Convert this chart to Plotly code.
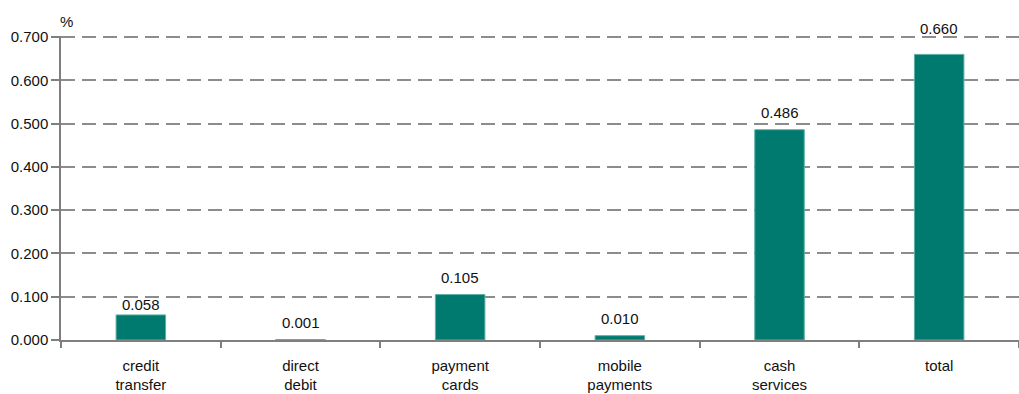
import plotly.graph_objects as go

categories = ["credit<br>transfer", "direct<br>debit", "payment<br>cards",
              "mobile<br>payments", "cash<br>services", "total"]
values = [0.058, 0.001, 0.105, 0.010, 0.486, 0.660]
labels = ["0.058", "0.001", "0.105", "0.010", "0.486", "0.660"]
label_shift = [10, 17, 17, 17, 17, 26]

y_ticks = [0.0, 0.1, 0.2, 0.3, 0.4, 0.5, 0.6, 0.7]
y_ticktext = [f"{v:.3f}" for v in y_ticks]

FONT = "Liberation Sans, Arial, sans-serif"
BAR = "#007A6E"
AXIS = "#7f7f7f"

fig = go.Figure()
fig.add_trace(go.Bar(
    x=categories, y=values,
    marker=dict(color=BAR, line=dict(color="#5fb0a6", width=1)),
    width=0.31,
    hoverinfo="skip",
))

for cat, v, t, s in zip(categories, values, labels, label_shift):
    fig.add_annotation(x=cat, y=v, text=t, showarrow=False,
                       yanchor="middle", yshift=s,
                       font=dict(family=FONT, size=15, color="#111"))

fig.add_annotation(x=0, y=1, xref="paper", yref="paper", text="%",
                   showarrow=False, xanchor="left", yanchor="bottom",
                   xshift=-3, yshift=4,
                   font=dict(family=FONT, size=15, color="#111"))

fig.update_layout(
    width=1019, height=394,
    margin=dict(l=61, r=0, t=36, b=54),
    paper_bgcolor="white", plot_bgcolor="white",
    showlegend=False,
    font=dict(family=FONT, size=15, color="#111"),
)
fig.update_xaxes(
    type="category", tickson="boundaries",
    ticks="outside", ticklen=6, tickcolor=AXIS, tickwidth=1.5,
    showline=True, linecolor=AXIS, linewidth=1.5,
    showgrid=False, ticklabelstandoff=11,
    tickfont=dict(family=FONT, size=15, color="#111"),
)
fig.update_yaxes(
    range=[0, 0.7025], tickvals=y_ticks, ticktext=y_ticktext,
    ticks="outside", ticklen=8, tickcolor=AXIS, tickwidth=1.5,
    showline=True, linecolor=AXIS, linewidth=1.5,
    showgrid=True, gridcolor="#8c8c8c", gridwidth=1.5, griddash="14px,7px",
    zeroline=False,
    tickfont=dict(family=FONT, size=15, color="#111"),
)

fig.write_html("out.html")
